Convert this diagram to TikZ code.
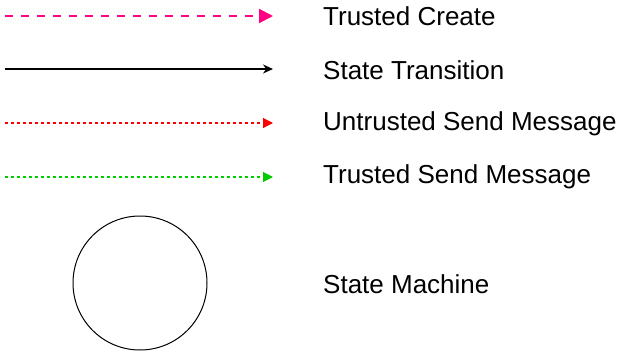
\documentclass[tikz,border=0pt]{standalone}
\usepackage{fontspec}
\setmainfont{Liberation Sans}
\usetikzlibrary{arrows.meta}
\definecolor{pinkc}{RGB}{255,0,128}
\definecolor{redc}{RGB}{255,0,0}
\definecolor{greenc}{RGB}{0,204,0}
\tikzset{
  lbl/.style={anchor=west, inner sep=0pt, font=\fontsize{26}{30}\selectfont},
  pinkarrow/.style={color=pinkc, line width=2.2pt, dash pattern=on 8pt off 8pt, -{Triangle[length=14pt,width=14pt]}},
  blackarrow/.style={color=black, line width=1.2pt, -{Stealth[length=10pt,width=9pt]}},
  redarrow/.style={color=redc, line width=1.1pt, dash pattern=on 3pt off 3pt, -{Triangle[length=10pt,width=10pt]}},
  greenarrow/.style={color=greenc, line width=1.1pt, dash pattern=on 3pt off 3pt, -{Triangle[length=10pt,width=10pt]}},
  smcircle/.style={circle, draw=black, line width=1pt, minimum size=134pt, inner sep=0pt}
}
\begin{document}
\begin{tikzpicture}[x=1pt,y=-1pt]
\useasboundingbox (0,0) rectangle (622,351);
\coordinate (s1) at (5,16);  \coordinate (e1) at (273,16);
\coordinate (s2) at (5,69);  \coordinate (e2) at (273,69);
\coordinate (s3) at (5,123); \coordinate (e3) at (273,123);
\coordinate (s4) at (5,177); \coordinate (e4) at (273,177);
\draw[pinkarrow] (s1) -- (e1);
\draw[blackarrow] (s2) -- (e2);
\draw[redarrow] (s3) -- (e3);
\draw[greenarrow] (s4) -- (e4);
\node[lbl] (t1) at (323,16) {Trusted Create};
\node[lbl] (t2) at (323,70) {State Transition};
\node[lbl] (t3) at (323,124) {Untrusted Send Message};
\node[lbl] (t4) at (323,177) {Trusted Send Message};
\node[smcircle] (sm) at (140,283) {};
\node[lbl] (t5) at (323,284) {State Machine};
\end{tikzpicture}
\end{document}
